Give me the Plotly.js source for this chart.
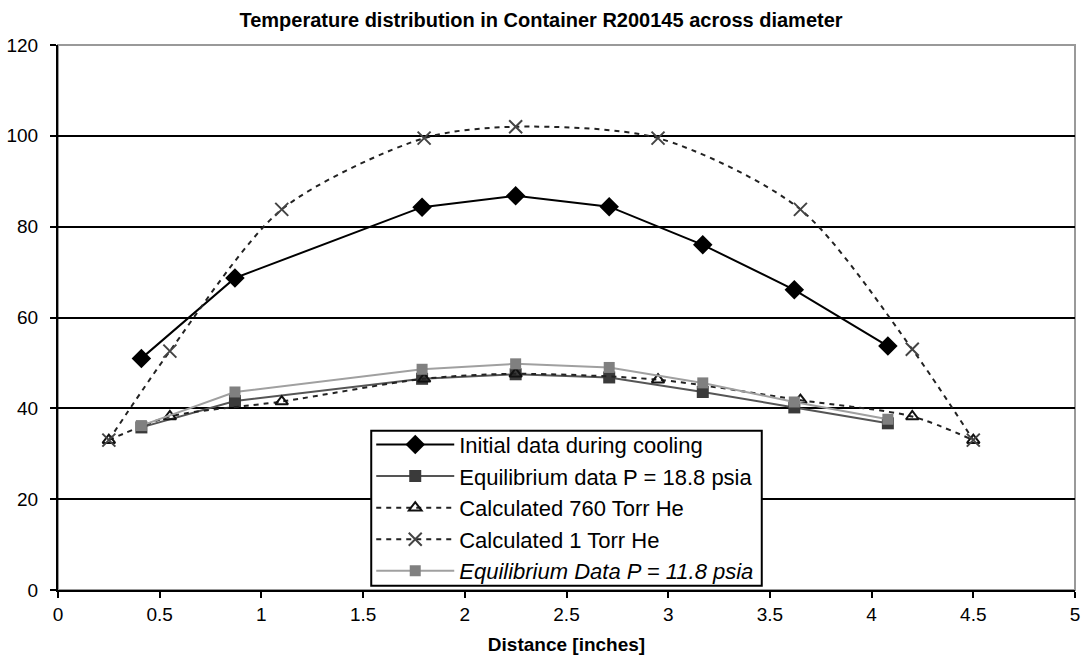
<!DOCTYPE html>
<html>
<head>
<meta charset="utf-8">
<script src="https://cdn.plot.ly/plotly-3.0.1.min.js"></script>
<style>html,body{margin:0;padding:0;background:#fff;}#chart{width:1082px;height:665px;}</style>
</head>
<body>
<div id="chart"></div>
<script>
// Data
const measX = [0.41, 0.87, 1.79, 2.25, 2.71, 3.17, 3.62, 4.08];
const initialCooling = [51, 68.7, 84.3, 86.8, 84.4, 76, 66.1, 53.7];
const equil188 = [35.8, 41.6, 46.5, 47.5, 46.8, 43.6, 40.2, 36.7];
const equil118 = [36.2, 43.6, 48.6, 49.8, 49, 45.6, 41.4, 37.6];
const calcX = [0.25, 0.55, 1.1, 1.8, 2.25, 2.95, 3.65, 4.2, 4.5];
const calc760 = [33, 38.2, 41.5, 46.5, 47.6, 46.3, 41.8, 38.2, 33];
const calc1 = [33, 52.6, 83.8, 99.5, 102, 99.5, 83.8, 53, 33];
const xTicks = [0, 0.5, 1, 1.5, 2, 2.5, 3, 3.5, 4, 4.5, 5];
const yTicks = [0, 20, 40, 60, 80, 100, 120];

const traces = [
  {x: measX, y: initialCooling, name: 'Initial data during cooling', mode: 'lines+markers',
   line: {color: '#000', width: 2}, marker: {symbol: 'diamond', size: 15, color: '#000'}},
  {x: measX, y: equil188, name: 'Equilibrium data P = 18.8 psia', mode: 'lines+markers',
   line: {color: '#555', width: 2}, marker: {symbol: 'square', size: 12, color: '#3a3a3a'}},
  {x: calcX, y: calc760, name: 'Calculated 760 Torr He', mode: 'lines+markers',
   line: {color: '#222', width: 2, dash: '5px,5px', shape: 'spline', smoothing: 0.8},
   marker: {symbol: 'triangle-up-open', size: 11, color: '#111', line: {width: 2}}},
  {x: calcX, y: calc1, name: 'Calculated 1 Torr He', mode: 'lines+markers',
   line: {color: '#222', width: 2, dash: '5px,5px', shape: 'spline', smoothing: 0.8},
   marker: {symbol: 'x-thin-open', size: 13, color: '#444', line: {width: 2, color: '#444'}}},
  {x: measX, y: equil118, name: '<i>Equilibrium Data P = 11.8 psia</i>', mode: 'lines+markers',
   line: {color: '#a0a0a0', width: 2}, marker: {symbol: 'square', size: 11, color: '#808080'}}
];

const layout = {
  width: 1082, height: 665,
  paper_bgcolor: '#fff', plot_bgcolor: '#fff',
  margin: {l: 58, r: 7, t: 45, b: 75},
  font: {family: 'Liberation Sans, Arial, sans-serif', color: '#000', size: 19},
  title: {text: '<b>Temperature distribution in Container R200145 across diameter</b>',
          font: {size: 20}, x: 0.5, xanchor: 'center', y: 0.97, yanchor: 'middle'},
  xaxis: {range: [0, 5], tickvals: xTicks, ticktext: xTicks.map(String),
          showgrid: false, zeroline: false, showline: true, linecolor: '#000', linewidth: 2,
          ticks: 'outside', ticklen: 6, tickwidth: 2, tickcolor: '#000',
          tickfont: {size: 19},
          title: {text: '<b>Distance [inches]</b>', font: {size: 19}, standoff: 14}},
  yaxis: {range: [0, 120], tickvals: yTicks, ticktext: yTicks.map(String),
          showgrid: true, gridcolor: '#000', gridwidth: 2, zeroline: false,
          showline: true, linecolor: '#000', linewidth: 2,
          ticks: 'outside', ticklen: 6, tickwidth: 2, tickcolor: '#000',
          ticklabelstandoff: 8,
          tickfont: {size: 19}},
  shapes: [
    {type: 'rect', xref: 'paper', yref: 'paper', x0: 0, x1: 1, y0: 0, y1: 1,
     line: {color: '#999', width: 2}, layer: 'below'},
    // legend box
    {type: 'rect', xref: 'paper', yref: 'paper', x0: 0.308, x1: 0.692, y0: 0.008, y1: 0.292,
     line: {color: '#000', width: 2}, fillcolor: '#fff', layer: 'above'}
  ],
  legend: {x: 0.308, xanchor: 'left', y: -0.003, yanchor: 'bottom',
           bgcolor: 'rgba(0,0,0,0)', bordercolor: 'rgba(0,0,0,0)', borderwidth: 0,
           font: {size: 22}, tracegroupgap: 0, itemwidth: 78},
  showlegend: true
};

Plotly.newPlot('chart', traces, layout, {displayModeBar: false, staticPlot: true});
</script>
</body>
</html>
